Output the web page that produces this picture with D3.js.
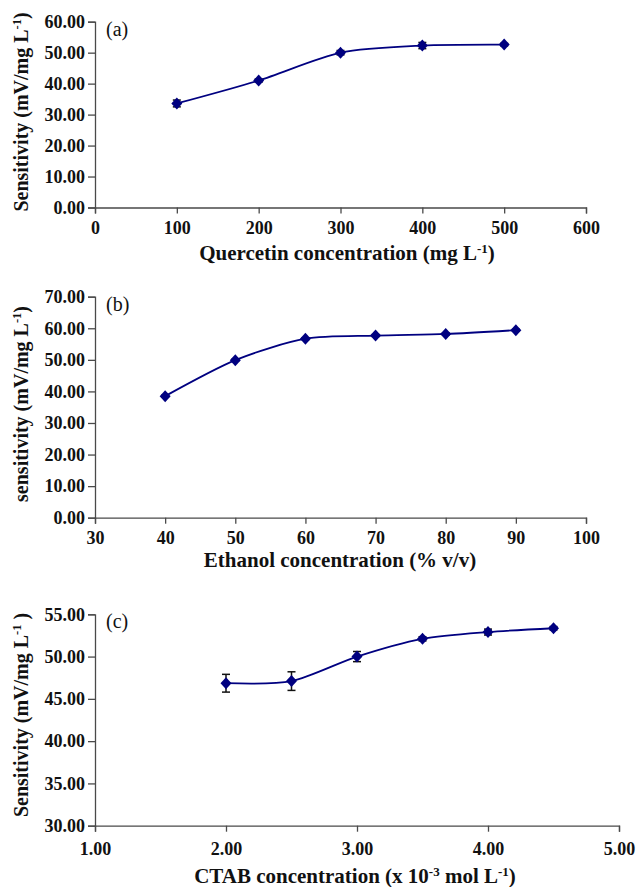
<!DOCTYPE html>
<html>
<head>
<meta charset="utf-8">
<script src="https://cdn.jsdelivr.net/npm/d3@7"></script>
<style>
  body { margin: 0; background: #fff; }
  text { font-family: "Liberation Serif", "Times New Roman", serif; }
</style>
</head>
<body>
<svg id="chart" width="637" height="887"></svg>
<script>
// panel (a) quercetin
var quercetinConc = [100, 200, 300, 400, 500];
var quercetinSens = [33.6, 41.0, 50.0, 52.3, 52.6];
var quercetinErr = [1.1, 0.5, 0.7, 1.0, 0.4];
var quercetinTicksX = [0, 100, 200, 300, 400, 500, 600];
var quercetinTicksY = [0, 10, 20, 30, 40, 50, 60];

// panel (b) ethanol
var ethanolConc = [40, 50, 60, 70, 80, 90];
var ethanolSens = [38.5, 49.9, 56.7, 57.7, 58.2, 59.4];
var ethanolErr = [0.3, 0.3, 0.3, 0.3, 0.3, 0.3];
var ethanolTicksX = [30, 40, 50, 60, 70, 80, 90, 100];
var ethanolTicksY = [0, 10, 20, 30, 40, 50, 60, 70];

// panel (c) CTAB
var ctabConc = [2.0, 2.5, 3.0, 3.5, 4.0, 4.5];
var ctabSens = [46.85, 47.1, 50.0, 52.1, 52.9, 53.35];
var ctabErr = [1.05, 1.1, 0.6, 0.25, 0.35, 0.2];
var ctabTicksX = [1, 2, 3, 4, 5];
var ctabTicksY = [30, 35, 40, 45, 50, 55];

var svg = d3.select("#chart");
var lineColor = "#000080";

function addTitle(el, parts, size) {
  parts.forEach(function(p) {
    el.append("tspan").attr("dy", p.sup ? -7 : (p.after ? 7 : 0))
      .style("font-size", (p.sup ? size * 0.62 : size) + "px").text(p.t);
  });
}

function panel(cfg) {
  var x = d3.scaleLinear().domain(cfg.xDomain).range([cfg.left, cfg.right]);
  var y = d3.scaleLinear().domain(cfg.yDomain).range([cfg.bottom, cfg.top]);
  var g = svg.append("g");

  g.append("g")
      .attr("transform", "translate(0," + cfg.bottom + ")")
      .call(d3.axisBottom(x).tickValues(cfg.xTicks).tickFormat(d3.format(cfg.xFmt)).tickSizeOuter(0).tickSize(6).tickPadding(cfg.xPad));
  g.append("g")
      .attr("transform", "translate(" + cfg.left + ",0)")
      .call(d3.axisLeft(y).tickValues(cfg.yTicks).tickFormat(d3.format(".2f")).tickSizeOuter(0).tickSize(7).tickPadding(3));

  g.selectAll(".domain, .tick line").attr("stroke", "#4a4a4a").attr("stroke-width", 1.3);
  g.selectAll(".tick text")
      .style("font-family", "'Liberation Serif', serif")
      .style("font-size", "18px")
      .style("font-weight", "bold")
      .attr("fill", "#111");

  var pts = cfg.xs.map(function(d, i) { return [d, cfg.ys[i], cfg.err[i]]; });

  var line = d3.line()
      .x(function(d) { return x(d[0]); })
      .y(function(d) { return y(d[1]); })
      .curve(d3.curveCardinal.tension(0.2));

  g.append("path")
      .datum(pts)
      .attr("fill", "none")
      .attr("stroke", lineColor)
      .attr("stroke-width", 1.8)
      .attr("d", line);

  var eb = g.selectAll(".err").data(pts).enter().append("g").attr("class", "err");
  eb.append("line")
      .attr("x1", function(d) { return x(d[0]); })
      .attr("x2", function(d) { return x(d[0]); })
      .attr("y1", function(d) { return y(d[1] - d[2]); })
      .attr("y2", function(d) { return y(d[1] + d[2]); })
      .attr("stroke", "#111").attr("stroke-width", 1.5);
  [-1, 1].forEach(function(s) {
    eb.append("line")
        .attr("x1", function(d) { return x(d[0]) - 4; })
        .attr("x2", function(d) { return x(d[0]) + 4; })
        .attr("y1", function(d) { return y(d[1] + s * d[2]); })
        .attr("y2", function(d) { return y(d[1] + s * d[2]); })
        .attr("stroke", "#111").attr("stroke-width", 1.5);
  });

  g.selectAll(".pt").data(pts).enter().append("path")
      .attr("class", "pt")
      .attr("transform", function(d) { return "translate(" + x(d[0]) + "," + y(d[1]) + ")"; })
      .attr("d", "M0,-6L5.5,0L0,6L-5.5,0Z")
      .attr("fill", lineColor);

  g.append("text")
      .attr("x", cfg.left + 11)
      .attr("y", cfg.top + 14)
      .style("font-size", "20px")
      .attr("fill", "#111")
      .text(cfg.tag);

  var xt = g.append("text")
      .attr("x", cfg.xTitleX)
      .attr("y", cfg.xTitleY)
      .attr("text-anchor", "middle")
      .style("font-weight", "bold")
      .attr("fill", "#111");
  addTitle(xt, cfg.xTitle, 21);

  var yt = g.append("text")
      .attr("transform", "translate(" + cfg.yTitleX + "," + cfg.yTitleMid + ") rotate(-90)")
      .attr("text-anchor", "middle")
      .style("font-weight", "bold")
      .attr("fill", "#111");
  addTitle(yt, cfg.yTitle, 20);
}

panel({
  tag: "(a)", xs: quercetinConc, ys: quercetinSens, err: quercetinErr,
  xDomain: [0, 600], yDomain: [0, 60], xTicks: quercetinTicksX, yTicks: quercetinTicksY,
  xFmt: "d", xPad: 8,
  left: 95, right: 586, top: 21.7, bottom: 207.5,
  xTitleX: 347, xTitleY: 260, yTitleX: 28, yTitleMid: 112,
  xTitle: [{t: "Quercetin concentration (mg L"}, {t: "-1", sup: true}, {t: ")", after: true}],
  yTitle: [{t: "Sensitivity (mV/mg L"}, {t: "-1", sup: true}, {t: ")", after: true}]
});

panel({
  tag: "(b)", xs: ethanolConc, ys: ethanolSens, err: ethanolErr,
  xDomain: [30, 100], yDomain: [0, 70], xTicks: ethanolTicksX, yTicks: ethanolTicksY,
  xFmt: "d", xPad: 8,
  left: 95, right: 586, top: 296.7, bottom: 517.7,
  xTitleX: 340, xTitleY: 567, yTitleX: 28, yTitleMid: 404,
  xTitle: [{t: "Ethanol concentration (% v/v)"}],
  yTitle: [{t: "sensitivity (mV/mg L"}, {t: "-1", sup: true}, {t: ")", after: true}]
});

panel({
  tag: "(c)", xs: ctabConc, ys: ctabSens, err: ctabErr,
  xDomain: [1, 5], yDomain: [30, 55], xTicks: ctabTicksX, yTicks: ctabTicksY,
  xFmt: ".2f", xPad: 11,
  left: 95, right: 619, top: 614.3, bottom: 825.7,
  xTitleX: 355, xTitleY: 883, yTitleX: 28, yTitleMid: 715,
  xTitle: [{t: "CTAB concentration (x 10"}, {t: "-3", sup: true}, {t: " mol L", after: true}, {t: "-1", sup: true}, {t: ")", after: true}],
  yTitle: [{t: "Sensitivity (mV/mg L"}, {t: "-1", sup: true}, {t: " )", after: true}]
});
</script>
</body>
</html>
